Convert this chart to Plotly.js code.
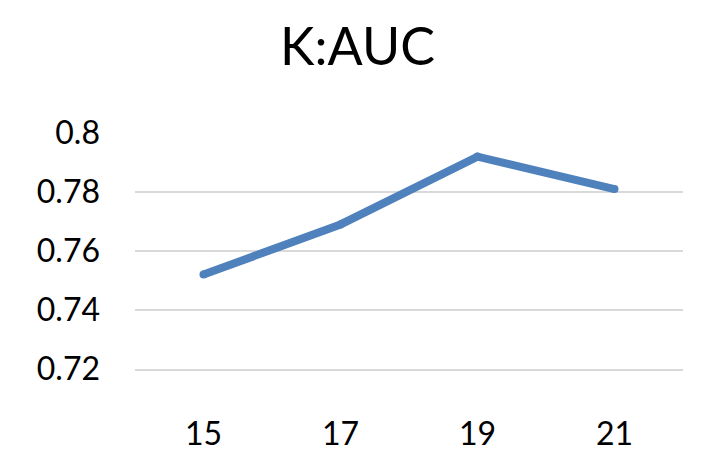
<!DOCTYPE html>
<html>
<head>
<meta charset="utf-8">
<script src="https://cdn.plot.ly/plotly-3.0.1.min.js"></script>
<style>
  html, body { margin: 0; padding: 0; background: #fff; }
  #chart { width: 715px; height: 472px; }
</style>
</head>
<body>
<div id="chart"></div>
<script>
// K values and the AUC
const kValues = ['15', '17', '19', '21']
const auc = [0.752, 0.769, 0.792, 0.781]
const yTicks = [0.72, 0.74, 0.76, 0.78, 0.8]
const yTickText = ['0.72', '0.74', '0.76', '0.78', '0.8']

const lineColor = '#4f81bd'
const gridColor = '#d9d9d9'
const font = 'Lato, "Open Sans", sans-serif'

let trace = {
    type: 'scatter',
    mode: 'lines+markers',
    x: kValues,
    y: auc,
    line: { color: lineColor, width: 8 },
    marker: { color: lineColor, size: 8 },
    hoverinfo: 'x+y',
}

const layout = {
    width: 715,
    height: 472,
    margin: { l: 135, r: 32, t: 133, b: 103 },
    paper_bgcolor: '#ffffff',
    plot_bgcolor: '#ffffff',
    showlegend: false,
    font: { family: font, color: '#000000' },
    title: {
        text: 'K:AUC',
        font: { family: font, size: 52, color: '#000000' },
        x: 0.5,
        xanchor: 'center',
        y: 0.9,
        yanchor: 'middle',
    },
    xaxis: {
        type: 'category',
        range: [-0.5, 3.5],
        showgrid: false,
        zeroline: false,
        showline: true,
        linecolor: gridColor,
        linewidth: 2,
        ticks: '',
        ticklabelstandoff: 36,
        tickfont: { family: font, size: 32, color: '#000000' },
        fixedrange: true,
    },
    yaxis: {
        range: [0.72, 0.8],
        tickvals: yTicks,
        ticktext: yTickText,
        showgrid: true,
        gridcolor: gridColor,
        gridwidth: 2,
        zeroline: false,
        showline: false,
        ticks: '',
        ticklabelstandoff: 34,
        tickfont: { family: font, size: 32, color: '#000000' },
        fixedrange: true,
    },
}

Plotly.newPlot('chart', [trace], layout, { displayModeBar: false, staticPlot: true })
</script>
</body>
</html>
